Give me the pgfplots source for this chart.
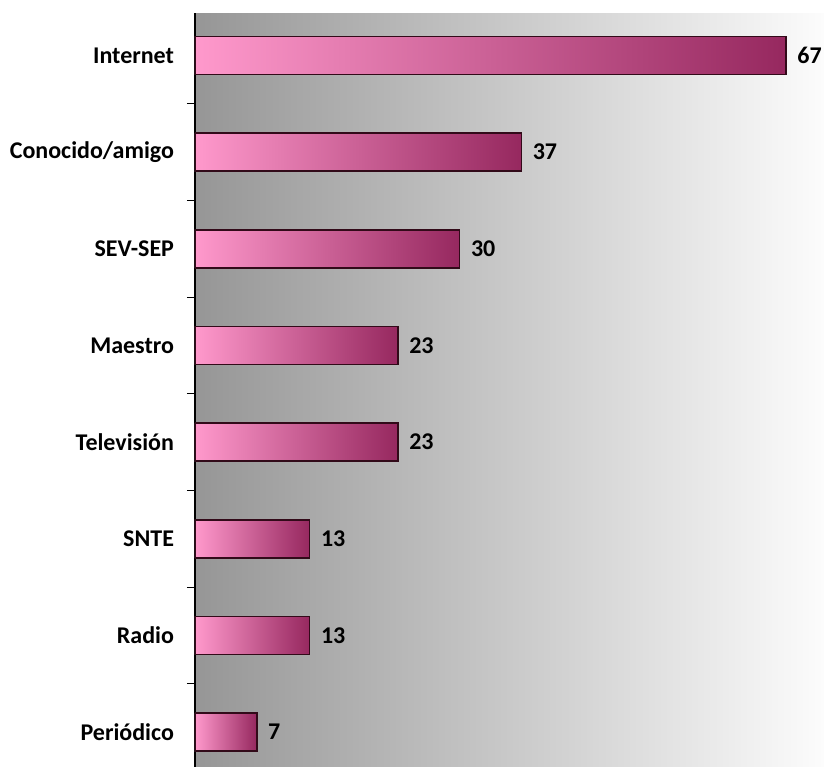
\documentclass[border=0pt]{standalone}
\usepackage{fontspec}
\setmainfont{Carlito}
\usepackage{pgfplots}
\pgfplotsset{compat=1.18}
\definecolor{barlight}{RGB}{255,153,204}
\definecolor{bardark}{RGB}{150,40,95}
\definecolor{barline}{RGB}{50,10,25}
\definecolor{bgleft}{RGB}{150,150,150}
\definecolor{bgright}{RGB}{252,252,252}
\pgfplotsset{bar/.style={draw=barline, line width=0.75bp, left color=barlight,
  right color=bardark, bar shift=0pt}}
\begin{document}
\begin{tikzpicture}
 \begin{axis}[
  scale only axis,
  width=314.5bp,
  height=377bp,
  xbar,
  bar width=19bp,
  xmin=0, xmax=71.3,
  ymin=-0.36, ymax=7.44,
  axis x line=none,
  axis y line*=left,
  y axis line style={black, line width=0.75bp},
  ytick={0,...,7},
  yticklabels={Periódico,Radio,SNTE,Televisión,Maestro,SEV-SEP,Conocido/amigo,Internet},
  yticklabel style={font=\fontsize{12bp}{14bp}\selectfont\bfseries, xshift=-7bp},
  major tick length=0pt,
  extra y ticks={0.5,1.5,...,6.5},
  extra y tick labels={},
  extra y tick style={major tick length=4bp, tick align=outside,
   tick style={black, line width=0.6bp}},
  axis background/.style={left color=bgleft, right color=bgright},
  /pgf/number format/assume math mode=true,
  nodes near coords,
  nodes near coords style={font=\fontsize{12bp}{14bp}\selectfont\bfseries,
   anchor=west, xshift=2bp, text=black}]
  % one plot per bar so that each bar gets its own gradient
  \addplot[bar] coordinates {(7,0)};
  \addplot[bar] coordinates {(13,1)};
  \addplot[bar] coordinates {(13,2)};
  \addplot[bar] coordinates {(23,3)};
  \addplot[bar] coordinates {(23,4)};
  \addplot[bar] coordinates {(30,5)};
  \addplot[bar] coordinates {(37,6)};
  \addplot[bar] coordinates {(67,7)};
 \end{axis}
 \pgfresetboundingbox
 \path (current axis.south west) ++(-97.5bp,0) rectangle ++(412bp,383.5bp);
\end{tikzpicture}
\end{document}
